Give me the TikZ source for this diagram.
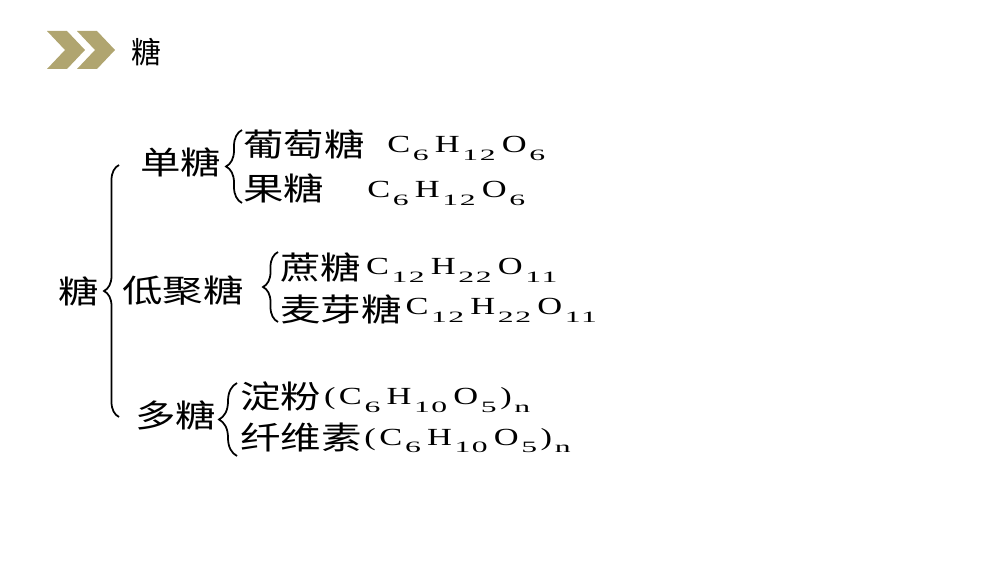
\documentclass[tikz,border=0pt]{standalone}
\usepackage{fontspec}
\setmainfont{Noto Sans CJK SC}
\newfontfamily\cjkw[FakeStretch=1.28]{Noto Sans CJK SC}
\newfontfamily\fmlfont[FakeStretch=1.4]{Liberation Serif}
\newfontfamily\subfont[FakeStretch=2,LetterSpace=10]{Liberation Serif}
\usetikzlibrary{decorations.pathreplacing}

\definecolor{olive}{RGB}{176,165,112}
% element with subscript
\newcommand\el[2]{#1\kern1.5pt\raisebox{-4.5pt}{\fontsize{9}{10}\subfont #2}\kern3.5pt}
\newcommand\elz[2]{#1\kern1.5pt\raisebox{-4.5pt}{\fontsize{9}{10}\subfont #2}}

\tikzset{
  cn/.style={anchor=base west, inner sep=0pt, font=\fontsize{18}{20}\cjkw},
  fm/.style={anchor=base west, inner sep=0pt, font=\fontsize{14}{16}\fmlfont},
  brc/.style={decorate, decoration={brace, amplitude=#1}, line width=1pt},
  brc/.default=0.32cm,
  chev/.style={fill=olive, draw=none}
}

\begin{document}
\begin{tikzpicture}[x=0.02cm, y=-0.02cm]
\useasboundingbox (0,0) rectangle (1000,563);
% header
\fill[chev] (47,31) -- (67,31) -- (85,50) -- (67,69) -- (47,69) -- (65,50) -- cycle;
\fill[chev] (77,31) -- (97,31) -- (115,50) -- (97,69) -- (77,69) -- (95,50) -- cycle;
\node[font=\fontsize{17}{20}\selectfont] (hdr) at (146,52) {糖};

% tree
\node[cn] (root)  at (58,304)  {糖};
\node[cn] (mono)  at (140,175) {单糖};
\node[cn] (oligo) at (122,303) {低聚糖};
\node[cn] (poly)  at (135,428) {多糖};

\node[cn] (glu) at (243,157) {葡萄糖};
\node[cn] (fru) at (243,201) {果糖};
\node[cn] (suc) at (280,280) {蔗糖};
\node[cn] (mal) at (280,322) {麦芽糖};
\node[cn] (sta) at (240,409) {淀粉};
\node[cn] (cel) at (240,449) {纤维素};

\node[fm] (gluf) at (387,153) {\el{C}{6}\el{H}{12}\elz{O}{6}};
\node[fm] (fruf) at (367,198) {\el{C}{6}\el{H}{12}\elz{O}{6}};
\node[fm] (sucf) at ([shift={(4,-5)}]suc.base east) {\el{C}{12}\el{H}{22}\elz{O}{11}};
\node[fm] (malf) at ([shift={(3,-7)}]mal.base east) {\el{C}{12}\el{H}{22}\elz{O}{11}};
\node[fm] (staf) at ([shift={(2,-4)}]sta.base east) {(\kern2pt\el{C}{6}\el{H}{10}\elz{O}{5}\kern2pt)\elz{}{n}};
\node[fm] (celf) at ([shift={(2,-4)}]cel.base east) {(\kern2pt\el{C}{6}\el{H}{10}\elz{O}{5}\kern2pt)\elz{}{n}};

% braces
\coordinate (r1) at (119,417); \coordinate (r2) at (119,165);
\coordinate (m1) at (242,203); \coordinate (m2) at (242,130);
\coordinate (o1) at (278,322); \coordinate (o2) at (278,252);
\coordinate (p1) at (237,456); \coordinate (p2) at (237,383);
\draw[brc=0.3cm] (r1) -- (r2);
\draw[brc] (m1) -- (m2);
\draw[brc=0.3cm] (o1) -- (o2);
\draw[brc=0.36cm] (p1) -- (p2);
\end{tikzpicture}
\end{document}
